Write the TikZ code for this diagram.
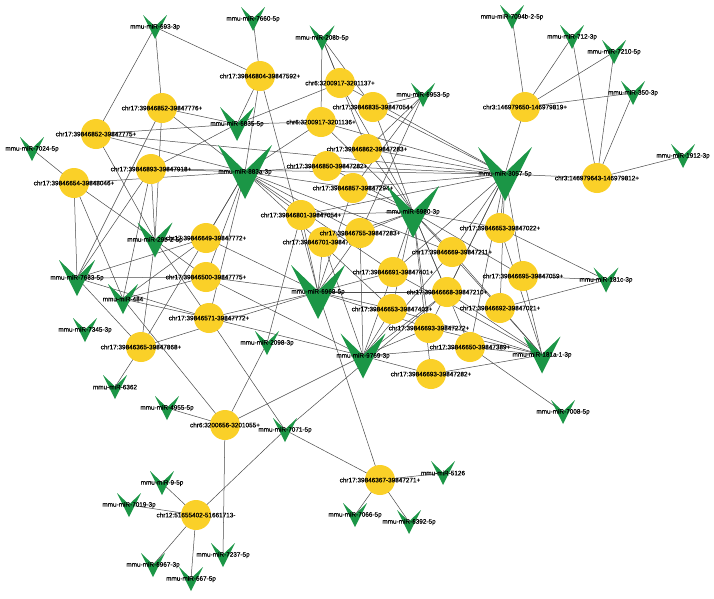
\documentclass[tikz,border=0pt]{standalone}
\usepackage{fontspec}
\setmainfont{Liberation Sans}
\newfontfamily\lblfont[FakeBold=0.5]{Liberation Sans}
\usetikzlibrary{calc}
\pgfdeclarelayer{back}
\pgfdeclarelayer{bg}
\pgfsetlayers{back,bg,main}
\definecolor{mg}{RGB}{27,150,70}
\definecolor{gy}{RGB}{250,208,40}
\definecolor{eg}{RGB}{75,75,75}
\tikzset{
  gene/.style={circle, fill=gy, minimum size=30pt, inner sep=0pt},
  mir/.style={rectangle, inner sep=0pt, minimum width=#1pt, minimum height=#1pt,
    path picture={\fill[mg] (path picture bounding box.north west)
      -- ($(path picture bounding box.north)!0.48!(path picture bounding box.south)$)
      -- (path picture bounding box.north east)
      -- (path picture bounding box.south) -- cycle;}},
  lbl/.style={inner sep=0pt, font=\lblfont\fontsize{6.4}{7}\selectfont},
  edge/.style={draw=eg, line width=0.5pt}
}
\newcommand\genenode[4]{\node[gene] (#1) at (#2,#3) {}; \node[lbl] (#1l) at (#1) {#4};}
\newcommand\mirnode[5]{\node[mir=#4] (#1) at (#2,#3) {}; \node[lbl] (#1l) at (#1) {#5};}
\begin{document}
\begin{tikzpicture}[x=1pt,y=-1pt]
\begin{pgfonlayer}{back}
\fill[white] (0,0) rectangle (714,598);
\end{pgfonlayer}
\useasboundingbox (0,0) rectangle (714,598);
% genes
\genenode{c1}{162}{108}{chr17:39846852-39847776+}
\genenode{c2}{96}{134}{chr17:39846852-39847775+}
\genenode{c3}{151}{169}{chr17:39846893-39847918+}
\genenode{c4}{74}{183}{chr17:39846654-39848046+}
\genenode{c5}{260}{76}{chr17:39846804-39847592+}
\genenode{c6}{340}{83}{chr6:3200917-3201137+}
\genenode{c7}{373}{107}{chr17:39846835-39847054+}
\genenode{c8}{321}{122}{chr6:3200917-3201136+}
\genenode{c9}{367}{149}{chr17:39846862-39847283+}
\genenode{c10}{327}{166}{chr17:39846850-39847282+}
\genenode{c11}{353}{188}{chr17:39846857-39847294+}
\genenode{c12}{301}{215}{chr17:39846801-39847054+}
\genenode{c14}{323}{242}{chr17:39846701-39847283+}
\genenode{c13}{360}{233}{chr17:39846755-39847283+}
\genenode{c15}{206}{238}{chr17:39846649-39847772+}
\genenode{c16}{206}{277}{chr17:39846500-39847775+}
\genenode{c17}{209}{318}{chr17:39846571-39847772+}
\genenode{c18}{141}{347}{chr17:39846365-39847868+}
\genenode{c19}{225}{425}{chr6:3200656-3201055+}
\genenode{c20}{196}{515}{chr12:51655402-51661713-}
\genenode{c21}{380}{480}{chr17:39846367-39847271+}
\genenode{c22}{525}{107}{chr3:146979650-146979819+}
\genenode{c23}{597}{178}{chr3:146979643-146979812+}
\genenode{c25}{452}{252}{chr17:39846669-39847211+}
\genenode{c26}{500}{228}{chr17:39846653-39847022+}
\genenode{c24}{393}{272}{chr17:39846691-39847401+}
\genenode{c28}{523}{276}{chr17:39846695-39847059+}
\genenode{c27}{447}{292}{chr17:39846668-39847210+}
\genenode{c29}{392}{309}{chr17:39846653-39847403+}
\genenode{c30}{500}{308}{chr17:39846692-39847021+}
\genenode{c31}{429}{328}{chr17:39846693-39847272+}
\genenode{c32}{470}{347}{chr17:39846650-39847389+}
\genenode{c33}{431}{374}{chr17:39846693-39847282+}
% miRNAs
\mirnode{m693}{155}{27}{24}{mmu-miR-693-3p}
\mirnode{m7660}{253}{19}{24}{mmu-miR-7660-5p}
\mirnode{m208b}{322}{38}{25}{mmu-miR-208b-5p}
\mirnode{m6953}{423}{95}{24}{mmu-miR-6953-5p}
\mirnode{m7024}{32}{149}{24}{mmu-miR-7024-5p}
\mirnode{m7094}{512}{17}{24}{mmu-miR-7094b-2-5p}
\mirnode{m712}{572}{37}{24}{mmu-miR-712-3p}
\mirnode{m7210}{614}{52}{24}{mmu-miR-7210-5p}
\mirnode{m350}{633}{93}{24}{mmu-miR-350-3p}
\mirnode{m1912}{683}{156}{24}{mmu-miR-1912-3p}
\mirnode{m6835}{237}{124}{34}{mmu-miR-6835-5p}
\mirnode{m883a}{245}{172}{54}{mmu-miR-883a-3p}
\mirnode{m3057}{505}{174}{54}{mmu-miR-3057-5p}
\mirnode{m6980}{413}{212}{52}{mmu-miR-6980-3p}
\mirnode{m6968}{318}{292}{54}{mmu-miR-6968-5p}
\mirnode{m9769}{363}{356}{45}{mmu-miR-9769-3p}
\mirnode{m181a}{542}{355}{37}{mmu-miR-181a-1-3p}
\mirnode{m29b}{155}{240}{35}{mmu-miR-29b-2-5p}
\mirnode{m7683}{77}{278}{36}{mmu-miR-7683-5p}
\mirnode{m484}{123}{299}{30}{mmu-miR-484}
\mirnode{m7345}{85}{330}{24}{mmu-miR-7345-3p}
\mirnode{m6362}{115}{387}{24}{mmu-miR-6362}
\mirnode{m2098}{267}{343}{24}{mmu-miR-2098-3p}
\mirnode{m181c}{606}{280}{25}{mmu-miR-181c-3p}
\mirnode{m4955}{167}{408}{24}{mmu-miR-4955-5p}
\mirnode{m9}{162}{483}{24}{mmu-miR-9-5p}
\mirnode{m7019}{129}{505}{24}{mmu-miR-7019-3p}
\mirnode{m6967}{153}{565}{24}{mmu-miR-6967-3p}
\mirnode{m667}{191}{579}{24}{mmu-miR-667-5p}
\mirnode{m7237}{223}{555}{24}{mmu-miR-7237-5p}
\mirnode{m7071}{285}{430}{24}{mmu-miR-7071-5p}
\mirnode{m7066}{355}{515}{24}{mmu-miR-7066-5p}
\mirnode{m6392}{409}{522}{24}{mmu-miR-6392-5p}
\mirnode{m5126}{443}{473}{24}{mmu-miR-5126}
\mirnode{m7008}{563}{412}{24}{mmu-miR-7008-5p}
% edges
\begin{pgfonlayer}{bg}
\foreach \a/\b in {m693/c1,m693/c2,m693/c5,m7660/c5,
  m208b/c6,m208b/c7,m208b/c8,m208b/c9,
  m6953/c7,m6953/c9,m6953/c11,m6953/c13,
  m7024/c4,m7094/c22,m712/c22,m712/c23,m7210/c22,m7210/c23,m350/c22,m350/c23,m1912/c23,
  m6835/c1,m6835/c2,m6835/c3,m6835/c5,m6835/c6,m6835/c8,
  m29b/c1,m29b/c2,m29b/c3,m29b/c4,m29b/c15,m29b/c16,m29b/c17,m29b/c18,
  m7683/c1,m7683/c3,m7683/c4,m7683/c15,m7683/c16,m7683/c17,m7683/c18,
  m484/c3,m484/c4,m484/c15,m484/c16,m484/c17,m484/c19,
  m6362/c18,m4955/c19,m9/c20,m7019/c20,m6967/c20,m667/c20,m7237/c19,
  m7071/c17,m7071/c20,m7071/c21,m7071/c27,
  m7066/c21,m6392/c21,m5126/c21,m7008/c32,
  m181c/c26,m181c/c28,m181c/c30,m2098/c19,m2098/c12,
  m883a/c1,m883a/c2,m883a/c3,m883a/c4,m883a/c5,m883a/c8,m883a/c10,m883a/c11,m883a/c12,
  m883a/c13,m883a/c15,m883a/c16,m883a/c17,m883a/c18,m883a/c24,m883a/c25,m883a/c29,
  m3057/c6,m3057/c7,m3057/c8,m3057/c9,m3057/c10,m3057/c11,m3057/c12,m3057/c22,m3057/c23,
  m3057/c25,m3057/c26,m3057/c27,m3057/c28,m3057/c30,m3057/c31,m3057/c32,m3057/c24,m3057/c2,m3057/c3,
  m6980/c6,m6980/c7,m6980/c8,m6980/c9,m6980/c10,m6980/c11,m6980/c12,m6980/c13,m6980/c14,
  m6980/c24,m6980/c25,m6980/c26,m6980/c27,m6980/c29,m6980/c31,m6980/c32,m6980/c33,m6980/c28,m6980/c30,
  m6968/c5,m6968/c12,m6968/c13,m6968/c14,m6968/c15,m6968/c16,m6968/c17,m6968/c18,m6968/c21,
  m6968/c24,m6968/c27,m6968/c29,m6968/c31,m6968/c11,
  m9769/c13,m9769/c14,m9769/c16,m9769/c17,m9769/c19,m9769/c24,m9769/c25,m9769/c27,m9769/c29,
  m9769/c31,m9769/c33,m9769/c32,
  m181a/c24,m181a/c25,m181a/c26,m181a/c27,m181a/c28,m181a/c29,m181a/c30,m181a/c31,m181a/c32,m181a/c33}
  \draw[edge] (\a.center) -- (\b.center);
\end{pgfonlayer}
\end{tikzpicture}
\end{document}
